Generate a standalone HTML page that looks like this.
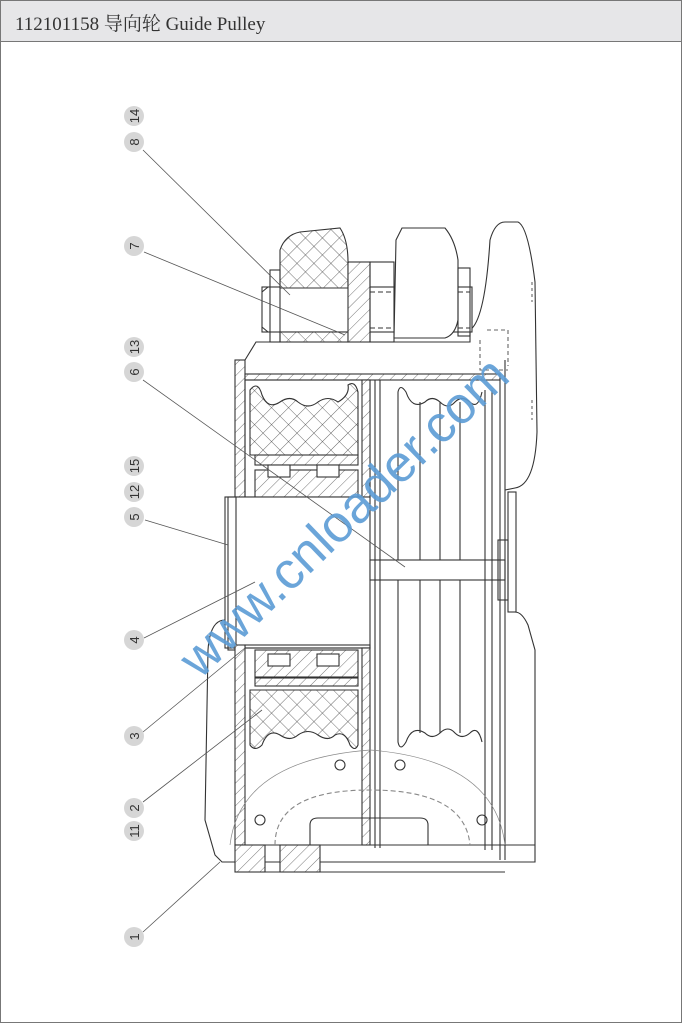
<!DOCTYPE html>
<html><head><meta charset="utf-8"><style>
html,body{margin:0;padding:0;background:#fff}
#w{position:relative;width:682px;height:1024px;overflow:hidden}
.hd{position:absolute;left:0;top:0;width:680px;height:40px;background:#e6e6e8;border:1px solid #777;}
.hd span{position:absolute;left:14px;top:8px;font:19px "Liberation Serif","Noto Serif CJK SC",serif;color:#333}
</style></head><body><div id="w">
<div class="hd"><span>112101158 导向轮 Guide Pulley</span></div>
<svg width="682" height="1024" style="position:absolute;left:0;top:0">
<defs>
<pattern id="x" width="12" height="12" patternUnits="userSpaceOnUse" patternTransform="rotate(45)">
<rect width="12" height="12" fill="#fff"/><path d="M0 0V12M0 0H12" stroke="#444" stroke-width="0.8"/></pattern>
<pattern id="h" width="8" height="8" patternUnits="userSpaceOnUse" patternTransform="rotate(45)">
<rect width="8" height="8" fill="#fff"/><path d="M0 0V8" stroke="#555" stroke-width="0.8"/></pattern>
</defs>
<rect x="0.5" y="41.5" width="681" height="981" fill="none" stroke="#777"/>
<g fill="none" stroke="#333" stroke-width="1.1">
<path d="M245 360 L256 342 L470 342 L470 330 Q485 320 490 240 Q495 222 505 222 L518 222 Q528 226 535 282 L537 432 Q535 485 515 488 L505 490"/>
<path d="M487 330 L508 330 L508 366 M480 340 L480 370 L508 370" stroke-dasharray="4,3" stroke="#666"/>
<path d="M532 282V302M532 400V420" stroke-dasharray="3,3" stroke="#666"/>
<rect x="262" y="287" width="210" height="45" fill="#fff"/>
<path d="M262 292 L268 287 M262 327 L268 332"/>
<line x1="370" y1="292" x2="470" y2="292" stroke-dasharray="5,3"/>
<line x1="370" y1="328" x2="470" y2="328" stroke-dasharray="5,3"/>
<path d="M280 288 L280 250 Q285 235 300 232 L340 228 Q348 240 348 262 L348 288 Z" fill="url(#x)"/>
<rect x="280" y="332" width="68" height="10" fill="url(#x)"/>
<rect x="270" y="270" width="10" height="72"/>
<rect x="348" y="262" width="22" height="80" fill="url(#h)"/>
<rect x="370" y="262" width="24" height="80"/>
<path d="M394 338 L396 240 L402 228 L445 228 Q455 240 458 260 L458 320 Q455 335 445 338 Z" fill="#fff"/>
<rect x="458" y="268" width="12" height="68"/>
<rect x="235" y="360" width="10" height="137" fill="url(#h)"/>
<rect x="245" y="374" width="255" height="6" fill="url(#h)"/>
<rect x="245" y="380" width="125" height="117"/>
<rect x="362" y="380" width="8" height="117" fill="url(#h)"/>
<path d="M250 390 Q258 380 262 395 Q268 410 280 402 Q290 395 298 402 Q308 410 318 402 Q328 395 338 402 Q350 395 348 385 Q355 380 358 392 L358 455 L250 455 Z" fill="url(#x)"/>
<rect x="255" y="455" width="103" height="10" fill="url(#h)"/>
<rect x="255" y="470" width="103" height="27" fill="url(#h)"/>
<rect x="268" y="465" width="22" height="12" fill="#fff"/><rect x="317" y="465" width="22" height="12" fill="#fff"/>
<rect x="225" y="497" width="145" height="151" fill="#fff"/>
<rect x="228" y="497" width="8" height="153"/>
<rect x="370" y="560" width="135" height="20" fill="#fff"/>
<rect x="498" y="540" width="10" height="60"/>
<rect x="508" y="492" width="8" height="120"/>
<g>
<line x1="375" y1="380" x2="375" y2="848"/><line x1="380" y1="380" x2="380" y2="848"/>
<line x1="500" y1="376" x2="500" y2="860"/><line x1="505" y1="360" x2="505" y2="860"/>
<line x1="485" y1="390" x2="485" y2="850"/><line x1="492" y1="390" x2="492" y2="850"/>
<path d="M398 560V392Q400 383 406 392Q412 410 425 402Q432 395 440 402Q448 410 455 402Q462 395 470 402Q478 410 482 392"/>
<path d="M398 580V742Q400 752 406 742Q412 725 425 733Q432 740 440 733Q448 725 455 733Q462 740 470 733Q478 725 482 742"/>
<line x1="420" y1="402" x2="420" y2="560"/><line x1="440" y1="402" x2="440" y2="560"/><line x1="460" y1="402" x2="460" y2="560"/>
<line x1="420" y1="580" x2="420" y2="733"/><line x1="440" y1="580" x2="440" y2="733"/><line x1="460" y1="580" x2="460" y2="733"/>
</g>
<rect x="245" y="645" width="125" height="3"/>
<rect x="255" y="650" width="103" height="27" fill="url(#h)"/>
<rect x="268" y="654" width="22" height="12" fill="#fff"/><rect x="317" y="654" width="22" height="12" fill="#fff"/>
<rect x="255" y="678" width="103" height="8" fill="url(#h)"/>
<path d="M250 690 L358 690 L358 745 Q355 752 350 745 Q345 730 335 735 Q328 742 318 735 Q308 728 298 735 Q290 742 280 735 Q268 728 262 745 Q255 752 250 745 Z" fill="url(#x)"/>
<rect x="235" y="645" width="10" height="200" fill="url(#h)"/>
<rect x="362" y="648" width="8" height="197" fill="url(#h)"/>
<path d="M225 620 Q210 620 208 650 L205 820 L215 855 L222 862 L535 862 L535 650 L528 625 Q522 612 515 612"/>
<line x1="235" y1="845" x2="535" y2="845"/>
<rect x="235" y="845" width="30" height="27" fill="url(#h)"/>
<rect x="280" y="845" width="40" height="27" fill="url(#h)"/>
<line x1="235" y1="872" x2="505" y2="872"/>
<path d="M230 845 Q240 760 370 750 Q495 760 505 845" stroke="#888" stroke-width="0.7"/>
<path d="M275 845 Q275 790 370 790 Q465 790 470 845" stroke="#888" stroke-dasharray="5,3"/>
<path d="M310 845 V825 Q310 818 318 818 H420 Q428 818 428 825 V845"/>
<circle cx="340" cy="765" r="5"/><circle cx="400" cy="765" r="5"/>
<circle cx="260" cy="820" r="5"/><circle cx="482" cy="820" r="5"/>
</g>
<g stroke="#555" stroke-width="0.8">
<line x1="143" y1="150" x2="290" y2="295"/>
<line x1="144" y1="252" x2="345" y2="335"/>
<line x1="143" y1="380" x2="405" y2="567"/>
<line x1="145" y1="520" x2="228" y2="545"/>
<line x1="144" y1="638" x2="255" y2="582"/>
<line x1="143" y1="732" x2="245" y2="648"/>
<line x1="143" y1="802" x2="262" y2="710"/>
<line x1="143" y1="932" x2="220" y2="862"/>
</g>
<g font-family="Liberation Sans,sans-serif" font-size="13" fill="#333" text-anchor="middle">
<g fill="#d6d6d6"><circle cx="134" cy="116" r="10"/><circle cx="134" cy="142" r="10"/><circle cx="134" cy="246" r="10"/><circle cx="134" cy="347" r="10"/><circle cx="134" cy="372" r="10"/><circle cx="134" cy="466" r="10"/><circle cx="134" cy="492" r="10"/><circle cx="134" cy="517" r="10"/><circle cx="134" cy="640" r="10"/><circle cx="134" cy="736" r="10"/><circle cx="134" cy="808" r="10"/><circle cx="134" cy="831" r="10"/><circle cx="134" cy="937" r="10"/></g>
<text transform="translate(139,116) rotate(-90)">14</text>
<text transform="translate(139,142) rotate(-90)">8</text>
<text transform="translate(139,246) rotate(-90)">7</text>
<text transform="translate(139,347) rotate(-90)">13</text>
<text transform="translate(139,372) rotate(-90)">6</text>
<text transform="translate(139,466) rotate(-90)">15</text>
<text transform="translate(139,492) rotate(-90)">12</text>
<text transform="translate(139,517) rotate(-90)">5</text>
<text transform="translate(139,640) rotate(-90)">4</text>
<text transform="translate(139,736) rotate(-90)">3</text>
<text transform="translate(139,808) rotate(-90)">2</text>
<text transform="translate(139,831) rotate(-90)">11</text>
<text transform="translate(139,937) rotate(-90)">1</text>
</g>
<text transform="translate(200,680) rotate(-44)" font-family="Liberation Sans,sans-serif" font-size="52" fill="#5b9bd5" fill-opacity="0.9">www.cnloader.com</text>
</svg>
</div></body></html>
